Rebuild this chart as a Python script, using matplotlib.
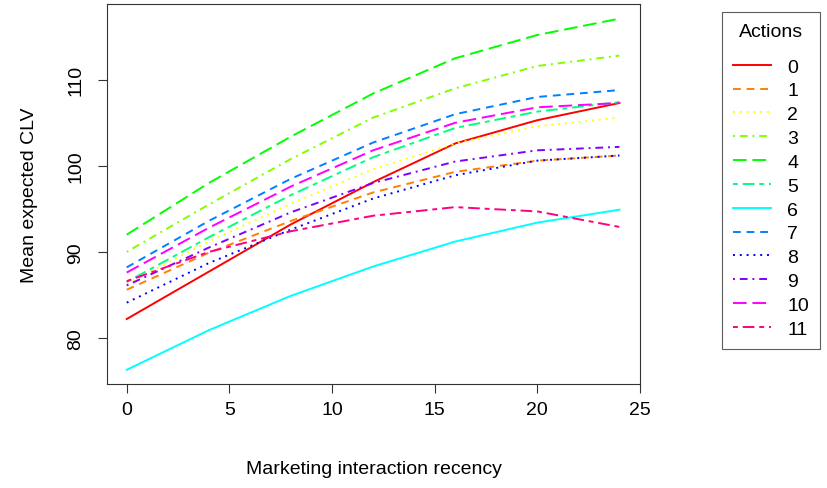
import numpy as np
import matplotlib
matplotlib.use("Agg")
import matplotlib.pyplot as plt

plt.rcParams["font.family"] = ["Liberation Sans", "DejaVu Sans"]

recency = [0, 4, 8, 12, 16, 20, 24]

# mean expected CLV per action
act0 = [82.2, 87.7, 93.2, 98.1, 102.6, 105.3, 107.3]
act1 = [85.6, 89.9, 93.6, 96.9, 99.3, 100.6, 101.2]
act2 = [86.3, 91.2, 95.6, 99.6, 102.6, 104.6, 105.6]
act3 = [90.0, 95.5, 100.8, 105.6, 109.0, 111.6, 112.8]
act4 = [92.0, 98.0, 103.4, 108.4, 112.5, 115.2, 117.1]
act5 = [86.5, 91.7, 96.6, 101.0, 104.4, 106.3, 107.4]
act6 = [76.3, 80.9, 84.9, 88.3, 91.2, 93.4, 94.9]
act7 = [88.2, 93.6, 98.5, 102.7, 106.0, 108.0, 108.8]
act8 = [84.1, 88.7, 92.6, 96.2, 98.9, 100.6, 101.2]
act9 = [86.1, 90.5, 94.6, 98.0, 100.5, 101.8, 102.2]
act10 = [87.6, 92.8, 97.6, 101.8, 105.0, 106.8, 107.3]
act11 = [86.6, 90.0, 92.4, 94.2, 95.2, 94.7, 92.9]
series = [act0, act1, act2, act3, act4, act5, act6, act7, act8, act9, act10, act11]
labels = [str(i) for i in range(12)]

# R rainbow(12) and lty 1..6 recycled
colors = ["#FF0000", "#FF8000", "#FFFF00", "#80FF00", "#00FF00", "#00FF80",
          "#00FFFF", "#0080FF", "#0000FF", "#8000FF", "#FF00FF", "#FF0080"]
ltys = ["-", (0, (4, 3)), (0, (1, 2.5)), (0, (1, 2.5, 4, 2.5)),
        (0, (7, 3)), (0, (2.5, 2.5, 6, 2.5))]

FS = 14

fig = plt.figure(figsize=(8.27, 4.89), dpi=100)
ax = fig.add_axes([107 / 827, 1 - 385 / 489, (640 - 107) / 827, (385 - 5) / 489])

handles = []
for i, y in enumerate(series):
    h, = ax.plot(recency, y, color=colors[i], ls=ltys[i % 6], lw=1.4)
    handles.append(h)

ax.set_xlim(-0.96, 24.96)
ax.set_ylim(74.65, 118.8)
ax.set_xticks([0, 5, 10, 15, 20, 25])
ax.set_yticks([80, 90, 100, 110])
ax.set_yticklabels(["80", "90", "100", "110"], rotation=90, va="center")
ax.tick_params(labelsize=FS, length=6.5, width=0.8, color="#333333")
ax.tick_params(axis="x", pad=6)
ax.tick_params(axis="y", pad=10)
for s in ax.spines.values():
    s.set_color("#333333")
    s.set_linewidth(0.8)
ax.set_xlabel("Marketing interaction recency", fontsize=FS, labelpad=30)
ax.set_ylabel("Mean expected CLV", fontsize=FS, labelpad=21)

leg = fig.legend(handles, labels, title="Actions", loc="upper left",
                 bbox_to_anchor=(722 / 827, 1 - 13 / 489), fontsize=FS,
                 title_fontsize=FS, frameon=True, fancybox=False,
                 handlelength=1.95, handletextpad=0.85, labelspacing=0.32,
                 borderpad=0.56, borderaxespad=0)
leg._legend_box.sep = FS * 0.32 + 8.5   # extra gap under the title, as in R
leg.get_frame().set_edgecolor("#333333")
leg.get_frame().set_linewidth(0.8)

fig.savefig("out.png", dpi=100)
